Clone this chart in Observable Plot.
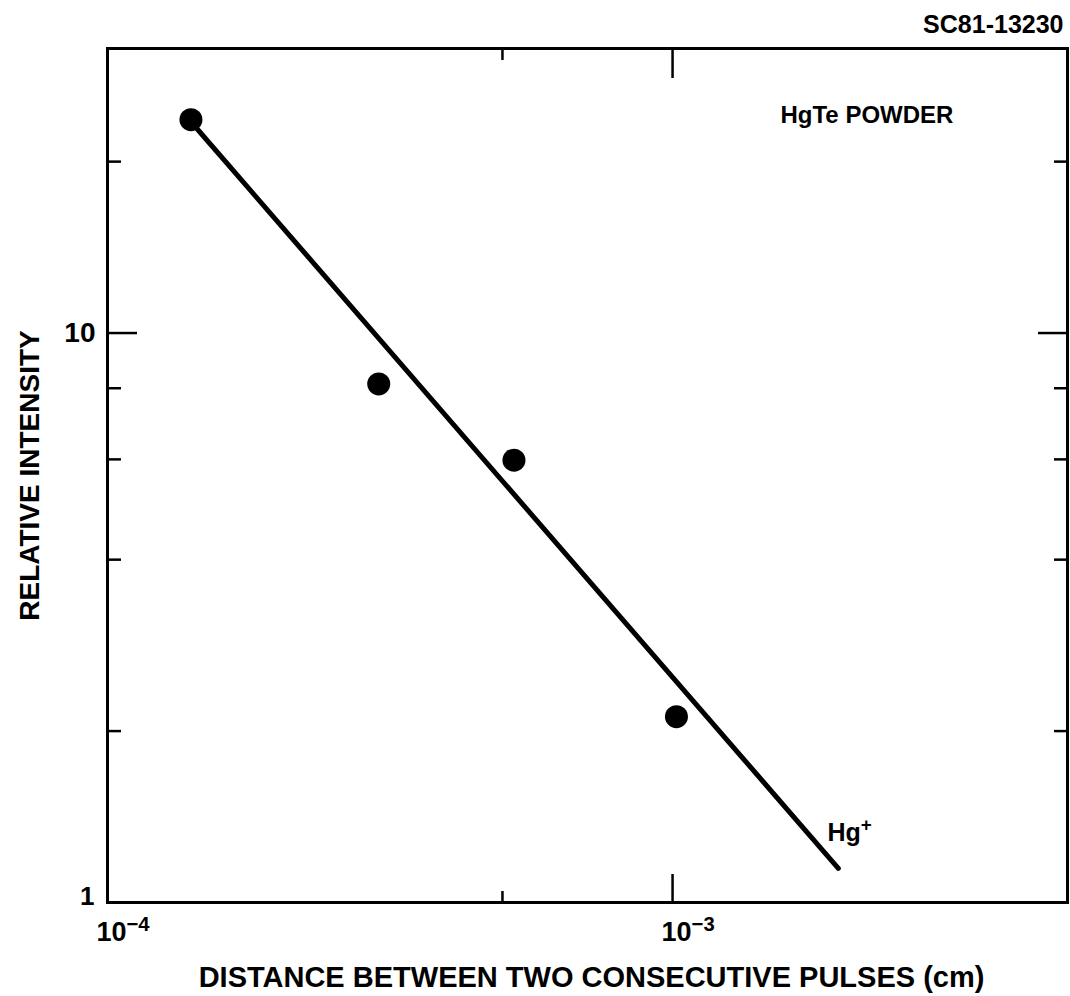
<!DOCTYPE html>
<html>
<head>
<meta charset="utf-8">
<script src="https://cdn.jsdelivr.net/npm/d3@7"></script>
<script src="https://cdn.jsdelivr.net/npm/@observablehq/plot@0.6"></script>
<style>
  html, body { margin: 0; padding: 0; background: #fff; }
  #chart svg { display: block; }
</style>
</head>
<body>
<div id="chart"></div>
<script>
// Data
const distance = [1.405e-4, 3.02e-4, 5.24e-4, 1.016e-3];   // cm
const intensity = [23.7, 8.14, 5.98, 2.12];                 // relative
const fitDistance = [1.405e-4, 1.965e-3];
const fitIntensity = [23.5, 1.148];

const xDomain = [1e-4, 5e-3];
const yDomain = [1, 31.6];
const xMajorTicks = [1e-3];
const xMinorTicks = [5e-4];
const yMajorTicks = [10];
const yMinorTicks = [2, 4, 6, 8, 20];
const xTickLabels = [{v: 1e-4, t: "10^−4"}, {v: 1e-3, t: "10^−3"}];
const yTickLabelOne = [{v: 1, t: "1"}];
const yTickLabelTen = [{v: 10, t: "10"}];

const xTitle = "DISTANCE BETWEEN TWO CONSECUTIVE PULSES (cm)";
const yTitle = "RELATIVE INTENSITY";
const code = "SC81-13230";
const sample = "HgTe POWDER";
const ion = "Hg^+";

const W = 1070, H = 996;
const mL = 107, mR = 3, mT = 48, mB = 94;
const fw = W - mL - mR, fh = H - mT - mB;
const font = "'Liberation Sans', Arial, Helvetica, sans-serif";

const points = distance.map((d, i) => ({x: d, y: intensity[i]}));
const fit = fitDistance.map((d, i) => ({x: d, y: fitIntensity[i]}));

const txt = {fontWeight: "bold", fill: "black", fontFamily: font, lineAnchor: "middle"};

const chart = Plot.plot({
  width: W, height: H,
  marginLeft: mL, marginRight: mR, marginTop: mT, marginBottom: mB,
  style: {fontFamily: font, background: "white", overflow: "visible"},
  x: {type: "log", domain: xDomain, axis: null},
  y: {type: "log", domain: yDomain, axis: null},
  marks: [
    // ticks: bottom & top (x), left & right (y)
    Plot.tickX(xMajorTicks, {x: d => d, insetTop: fh - 28, strokeWidth: 2.5}),
    Plot.tickX(xMajorTicks, {x: d => d, insetBottom: fh - 30, strokeWidth: 2.5}),
    Plot.tickX(xMinorTicks, {x: d => d, insetTop: fh - 11, strokeWidth: 2.5}),
    Plot.tickX(xMinorTicks, {x: d => d, insetBottom: fh - 12, strokeWidth: 2.5}),
    Plot.tickY(yMajorTicks, {y: d => d, insetRight: fw - 30, strokeWidth: 2.5}),
    Plot.tickY(yMajorTicks, {y: d => d, insetLeft: fw - 29, strokeWidth: 2.5}),
    Plot.tickY(yMinorTicks, {y: d => d, insetRight: fw - 14, strokeWidth: 2.5}),
    Plot.tickY(yMinorTicks, {y: d => d, insetLeft: fw - 13, strokeWidth: 2.5}),
    Plot.frame({stroke: "black", strokeWidth: 3}),
    // fit line and data points
    Plot.line(fit, {x: "x", y: "y", stroke: "black", strokeWidth: 5, strokeLinecap: "round"}),
    Plot.dot(points, {x: "x", y: "y", r: 11.5, fill: "black", stroke: "none"}),
    // tick labels
    Plot.text(xTickLabels, {x: "v", frameAnchor: "bottom", text: "t", textAnchor: "start", dx: -11, dy: 30, fontSize: 27, ...txt}),
    Plot.text(yTickLabelOne, {y: "v", frameAnchor: "left", text: "t", textAnchor: "end", dx: -13, dy: -6, fontSize: 26, ...txt}),
    Plot.text(yTickLabelTen, {y: "v", frameAnchor: "left", text: "t", textAnchor: "end", dx: -12, dy: 0, fontSize: 28, ...txt}),
    // axis titles
    Plot.text([xTitle], {frameAnchor: "bottom", text: d => d, textAnchor: "middle", dx: 4, dy: 75, fontSize: 29, ...txt}),
    Plot.text([yTitle], {frameAnchor: "left", text: d => d, textAnchor: "middle", dx: -77, rotate: -90, fontSize: 28, ...txt}),
    // annotations
    Plot.text([code], {frameAnchor: "top-right", text: d => d, textAnchor: "end", dx: -4, dy: -24, fontSize: 25, ...txt}),
    Plot.text([sample], {frameAnchor: "top-right", text: d => d, textAnchor: "start", dx: -287, dy: 67, fontSize: 24, ...txt}),
    Plot.text([ion], {frameAnchor: "bottom-right", text: d => d, textAnchor: "start", dx: -240, dy: -70, fontSize: 25, ...txt})
  ]
});

// turn "a^b" into a superscript
d3.select(chart).selectAll("text").each(function() {
  const el = this;
  const targets = el.querySelectorAll("tspan").length ? Array.from(el.querySelectorAll("tspan")) : [el];
  targets.forEach(t => {
    const s = t.textContent;
    if (!s.includes("^")) return;
    const [base, sup] = s.split("^");
    t.textContent = "";
    const sel = d3.select(t);
    sel.append("tspan").text(base);
    sel.append("tspan").attr("dy", "-0.5em").attr("font-size", "75%").text(sup);
  });
});

document.getElementById("chart").appendChild(chart);
</script>
</body>
</html>
